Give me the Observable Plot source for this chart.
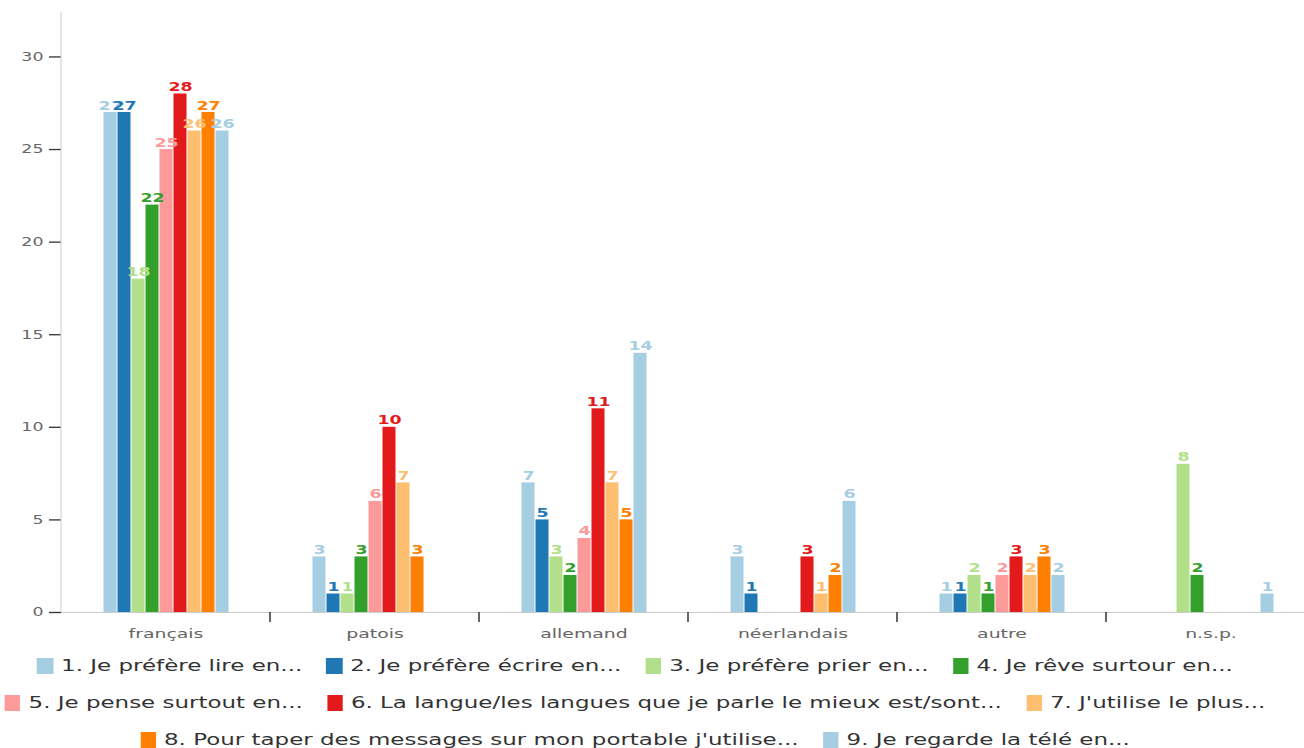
<!DOCTYPE html>
<html>
<head>
<meta charset="utf-8">
<script src="https://cdn.jsdelivr.net/npm/d3@7"></script>
<script src="https://cdn.jsdelivr.net/npm/@observablehq/plot@0.6"></script>
<style>
  html, body { margin: 0; padding: 0; background: #fff; overflow: hidden; }
  body { font-family: "DejaVu Sans", sans-serif; width: 1304px; height: 748px; }
  #chart { width: 1304px; height: 648px; overflow: hidden; }
  #chart svg { max-width: none !important; }
  #legendWrap { width: 1270px; margin-top: -1px; }
  #legend { width: 830px; transform: scaleX(1.53); transform-origin: 0 0;
    display: flex; flex-wrap: wrap; justify-content: center; column-gap: 15.7px; row-gap: 0;
    font-size: 15px; color: #333; }
  .item { display: flex; align-items: center; height: 37px; white-space: nowrap; }
  .sw { width: 10.5px; height: 16px; margin-right: 5.2px; }
</style>
</head>
<body>
<div id="chart"></div>
<div id="legendWrap"><div id="legend"></div></div>
<script>
const categories = ["français", "patois", "allemand", "néerlandais", "autre", "n.s.p."];
const series = [
  "1. Je préfère lire en...",
  "2. Je préfère écrire en...",
  "3. Je préfère prier en...",
  "4. Je rêve surtour en...",
  "5. Je pense surtout en...",
  "6. La langue/les langues que je parle le mieux est/sont...",
  "7. J'utilise le plus...",
  "8. Pour taper des messages sur mon portable j'utilise...",
  "9. Je regarde la télé en..."
];
const colors = ["#a6cee3", "#1f78b4", "#b2df8a", "#33a02c", "#fb9a99", "#e31a1c", "#fdbf6f", "#ff7f00", "#a6cee3"];
// values per category, in series order (null = no bar)
const francais    = [27, 27, 18, 22, 25, 28, 26, 27, 26];
const patois      = [3, 1, 1, 3, 6, 10, 7, 3, null];
const allemand    = [7, 5, 3, 2, 4, 11, 7, 5, 14];
const neerlandais = [3, 1, null, null, null, 3, 1, 2, 6];
const autre       = [1, 1, 2, 1, 2, 3, 2, 3, 2];
const nsp         = [null, null, 8, 2, null, null, null, null, 1];
const yTicks = [0, 5, 10, 15, 20, 25, 30];

const table = [francais, patois, allemand, neerlandais, autre, nsp];
const data = [];
categories.forEach((c, i) => {
  table[i].forEach((v, j) => {
    if (v != null) data.push({category: c, series: series[j], value: v});
  });
});

const chart = Plot.plot({
  width: 1317,
  height: 648,
  marginLeft: 58,
  marginRight: 0,
  marginTop: 12,
  marginBottom: 36,
  style: {fontFamily: "DejaVu Sans, sans-serif", fontSize: "12px", background: "#fff", maxWidth: "none"},
  fx: {domain: categories, padding: 0, label: null},
  x: {domain: series, axis: null, paddingInner: 0, paddingOuter: 2.8},
  y: {domain: [0, 32.4], label: null},
  color: {domain: series, range: colors},
  marks: [
    Plot.axisY({ticks: yTicks, tickSize: 12, tickPadding: 6, stroke: "#333", strokeWidth: 1.3, fill: "#666", fontSize: 12, label: null}),
    Plot.axisFx({anchor: "bottom", tickSize: 0, tickPadding: 16, fill: "#666", fontSize: 13, label: null}),
    Plot.barY(data, {fx: "category", x: "series", y: "value", fill: "series", insetLeft: 0.5, insetRight: 0.5}),
    Plot.text(data, {fx: "category", x: "series", y: "value", text: d => String(d.value), fill: "series",
      lineAnchor: "bottom", dy: -3, fontWeight: "bold", fontSize: 12}),
    Plot.ruleY([0], {stroke: "#ccc"})
  ]
});
document.getElementById("chart").appendChild(chart);

const svg = d3.select(chart);
// horizontally widen all texts (reference uses a wide typeface)
const k = 1.45;
svg.selectAll("text").each(function() {
  const t = this.getAttribute("transform") || "";
  const x = +this.getAttribute("x") || 0;
  if (x) this.setAttribute("x", x / k);
  this.setAttribute("transform", (t + ` scale(${k},1)`).trim());
});

// y axis line and separator ticks between category bands, positioned from the scales
const fxs = chart.scale("fx");
const ys = chart.scale("y");
const y0 = ys.apply(0);
const yTop = ys.range[1];
const xLeft = fxs.apply(categories[0]);
svg.append("line").attr("x1", xLeft).attr("x2", xLeft).attr("y1", yTop).attr("y2", y0)
  .attr("stroke", "#ccc");
categories.slice(1).forEach(c => {
  const x = fxs.apply(c);
  svg.append("line").attr("x1", x).attr("x2", x).attr("y1", y0).attr("y2", y0 + 10)
    .attr("stroke", "#333").attr("stroke-width", 1.5);
});

const legend = d3.select("#legend");
series.forEach((s, i) => {
  const item = legend.append("div").attr("class", "item");
  item.append("div").attr("class", "sw").style("background", colors[i]);
  item.append("span").text(s);
});
</script>
</body>
</html>
